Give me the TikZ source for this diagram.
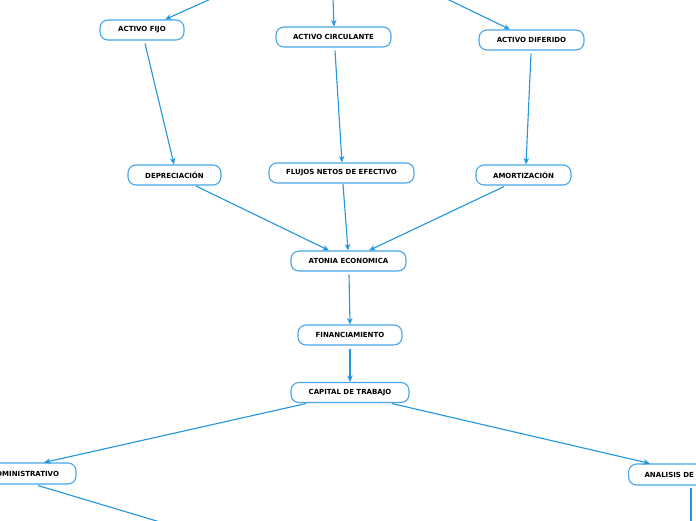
\documentclass[tikz,border=0pt]{standalone}
\usepackage{fontspec}
\setmainfont{DejaVu Sans}
\usetikzlibrary{arrows.meta,calc}
\definecolor{lineblue}{HTML}{2196DE}
\definecolor{boxblue}{HTML}{48A6E8}
\begin{document}
\begin{tikzpicture}[x=1pt,y=-1pt,
  box/.style={draw=boxblue, line width=1.1pt, rounded corners=8pt, fill=white,
    minimum height=20pt, inner sep=0pt, font=\fontsize{7}{8}\selectfont\bfseries, text=black},
  conn/.style={draw=lineblue, line width=1.1pt, -{Stealth[length=6.5pt,width=5.5pt]}},
  plain/.style={draw=lineblue, line width=1.1pt}]
\useasboundingbox (0,0) rectangle (696,520);
\clip (0,0) rectangle (696,520);
\fill[white] (0,0) rectangle (696,520);

\node[box, minimum width=84pt]  (fijo) at (142,30) {ACTIVO FIJO};
\node[box, minimum width=115pt] (circ) at (333.5,37) {ACTIVO CIRCULANTE};
\node[box, minimum width=105pt] (dif)  at (531.5,40) {ACTIVO DIFERIDO};
\node[box, minimum width=93pt]  (dep)  at (174.5,175) {DEPRECIACIÓN};
\node[box, minimum width=145pt] (flu)  at (341.5,173) {FLUJOS NETOS DE EFECTIVO};
\node[box, minimum width=95pt]  (amo)  at (523.5,175) {AMORTIZACIÓN};
\node[box, minimum width=115pt] (ato)  at (348.5,261) {ATONIA ECONOMICA};
\node[box, minimum width=104pt] (fin)  at (350,335) {FINANCIAMIENTO};
\node[box, minimum width=118pt] (cap)  at (350,392.5) {CAPITAL DE TRABAJO};
\node[box, minimum width=102pt, minimum height=21pt] (adm) at (25,473.5) {ADMINISTRATIVO};
\node[box, anchor=west, minimum height=21pt, text width=90pt, align=left, inner xsep=16pt] (ana) at (628,474.5) {ANALISIS DE};

\coordinate (t1) at (213,-2);
\coordinate (t2) at (333,-2);
\coordinate (t3) at (445,-2);
\coordinate (b1) at (160,522);
\coordinate (b2) at (691,522);

\draw[conn] (t1) -- ($(fijo.north)+(23,0)$);
\draw[conn] (t2) -- ($(circ.north)+(0.5,0)$);
\draw[conn] (t3) -- ($(dif.north)+(-21.5,0)$);
\draw[conn] ($(fijo.south)+(3,3)$) -- ($(dep.north)+(-0.5,0)$);
\draw[conn] ($(circ.south)+(1.5,3)$) -- ($(flu.north)+(0.5,0)$);
\draw[conn] ($(dif.south)+(-0.5,3)$) -- ($(amo.north)+(2.5,0)$);
\draw[conn] ($(dep.south)+(21.5,0.5)$) -- ($(ato.north)+(-19.5,0)$);
\draw[conn] ($(flu.south)+(1.5,0.5)$) -- ($(ato.north)+(-0.5,0)$);
\draw[conn] ($(amo.south)+(-19.5,1)$) -- ($(ato.north)+(20.5,0)$);
\draw[conn] ($(ato.south)+(0.5,3)$) -- (fin.north);
\draw[conn] ($(fin.south)+(0,3)$) -- (cap.north);
\draw[conn] ($(cap.south)+(-44,0.5)$) -- ($(adm.north)+(19,0)$);
\draw[conn] ($(cap.south)+(42,0.5)$) -- ($(ana.north west)+(22,0)$);
\draw[plain] ($(adm.south)+(13,1)$) -- (b1);
\draw[plain] ($(ana.south west)+(63,2)$) -- (b2);
\end{tikzpicture}
\end{document}
